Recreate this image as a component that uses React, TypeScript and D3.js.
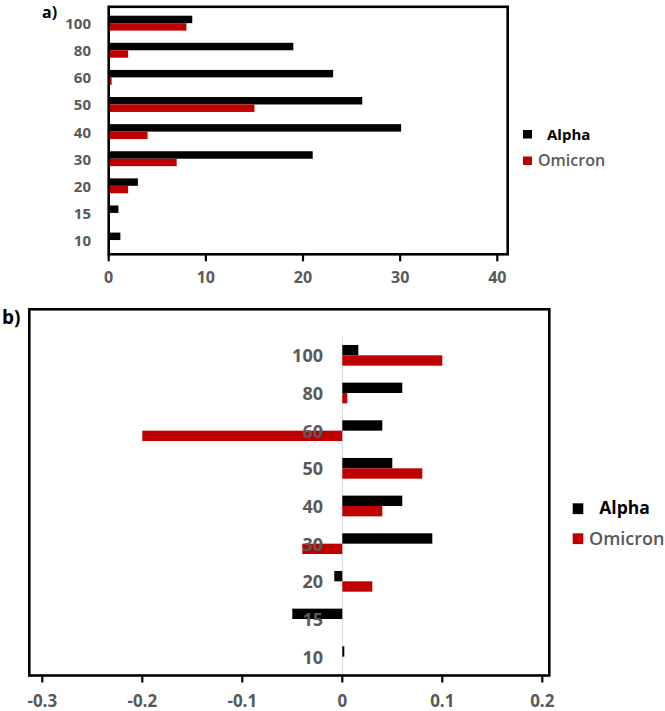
import React from "react";
import * as d3 from "d3";

const categories = ["100", "80", "60", "50", "40", "30", "20", "15", "10"];
const seriesNames = ["Alpha", "Omicron"];
const seriesColors = ["#000000", "#c00000"];

const alphaA = [8.6, 19, 23.1, 26.1, 30.1, 21, 3.0, 1.0, 1.2];
const omicronA = [8.0, 2.0, 0.3, 15.0, 4.0, 7.0, 2.0, 0, 0];

const alphaB = [0.016, 0.06, 0.04, 0.05, 0.06, 0.09, -0.008, -0.05, 0.002];
const omicronB = [0.1, 0.005, -0.2, 0.08, 0.04, -0.04, 0.03, 0, 0];

const ticksA = [0, 10, 20, 30, 40];
const ticksB = [-0.3, -0.2, -0.1, 0, 0.1, 0.2];

const GRAY = "#595959";
const FONT = "'Open Sans', 'Noto Sans', sans-serif";

type PanelProps = {
  alpha: number[];
  omicron: number[];
  xDomain: [number, number];
  xRange: [number, number];
  yRange: [number, number];
  frame: { x0: number; x1: number; y0: number; y1: number };
  ticks: number[];
  tickLabelY: number;
  tickFont: number;
  catFont: number;
  catLabelX: number;
  zeroLine: boolean;
  letter: string;
  letterX: number;
  letterY: number;
  letterFont: number;
  legend: { sx: number; sy: number[]; size: [number, number]; tx: number[]; ty: number[]; font: number[] };
};

function Panel(p: PanelProps) {
  const x = d3.scaleLinear().domain(p.xDomain).range(p.xRange);
  const y = d3.scaleBand<string>().domain(categories).range(p.yRange).padding(0);
  const step = y.step();
  const sub = d3
    .scaleBand<string>()
    .domain(seriesNames)
    .range([step * 0.225, step * 0.775])
    .padding(0);
  const data = [p.alpha, p.omicron];
  const x0 = x(0);
  return (
    <g>
      {p.zeroLine && (
        <line x1={x0} x2={x0} y1={p.yRange[0]} y2={p.frame.y1} stroke="#d9d9d9" strokeWidth={1} />
      )}
      {data.map((vals, si) =>
        vals.map((v, i) => {
          if (v === 0) return null;
          const xv = x(v);
          return (
            <rect
              key={`${si}-${i}`}
              x={Math.min(xv, x0)}
              width={Math.abs(xv - x0)}
              y={(y(categories[i]) as number) + (sub(seriesNames[si]) as number)}
              height={sub.bandwidth()}
              fill={seriesColors[si]}
            />
          );
        })
      )}
      {categories.map((c) => (
        <text
          key={c}
          x={p.catLabelX}
          y={(y(c) as number) + step / 2}
          textAnchor="end"
          dominantBaseline="central"
          fontFamily={FONT}
          fontWeight={700}
          fontSize={p.catFont}
          fill={GRAY}
        >
          {c}
        </text>
      ))}
      <rect
        x={p.frame.x0}
        y={p.frame.y0}
        width={p.frame.x1 - p.frame.x0}
        height={p.frame.y1 - p.frame.y0}
        fill="none"
        stroke="#000"
        strokeWidth={2.6}
      />
      {p.ticks.map((t) => (
        <g key={t}>
          <line x1={x(t)} x2={x(t)} y1={p.frame.y1} y2={p.frame.y1 + 7} stroke="#000" strokeWidth={2.2} />
          <text
            x={x(t)}
            y={p.tickLabelY}
            textAnchor="middle"
            fontFamily={FONT}
            fontWeight={700}
            fontSize={p.tickFont}
            fill={GRAY}
          >
            {String(t)}
          </text>
        </g>
      ))}
      <text x={p.letterX} y={p.letterY} fontFamily={FONT} fontWeight={700} fontSize={p.letterFont} fill="#000">
        {p.letter}
      </text>
      {seriesNames.map((s, si) => (
        <g key={s}>
          <rect
            x={p.legend.sx}
            y={p.legend.sy[si]}
            width={p.legend.size[0]}
            height={p.legend.size[1]}
            fill={seriesColors[si]}
          />
          <text
            x={p.legend.tx[si]}
            y={p.legend.ty[si]}
            fontFamily={FONT}
            fontWeight={si === 0 ? 700 : 600}
            fontSize={p.legend.font[si]}
            fill={si === 0 ? "#000" : GRAY}
          >
            {s}
          </text>
        </g>
      ))}
    </g>
  );
}

export default function App() {
  return (
    <svg
      width={665}
      height={711}
      style={{ position: "absolute", left: 0, top: 0, background: "#fff" }}
    >
      <rect x={0} y={0} width={665} height={711} fill="#fff" />
      <Panel
        alpha={alphaA}
        omicron={omicronA}
        xDomain={[0, 41.07]}
        xRange={[108.7, 507.7]}
        yRange={[9.6, 253.6]}
        frame={{ x0: 108.7, x1: 507.7, y0: 6.8, y1: 254.3 }}
        ticks={ticksA}
        tickLabelY={283.3}
        tickFont={16}
        catFont={15}
        catLabelX={91}
        zeroLine={false}
        letter="a)"
        letterX={42}
        letterY={18}
        letterFont={16}
        legend={{ sx: 523, sy: [130, 156.5], size: [9, 8.5], tx: [547, 538], ty: [139.5, 165.5], font: [15, 16] }}
      />
      <Panel
        alpha={alphaB}
        omicron={omicronB}
        xDomain={[-0.313, 0.207]}
        xRange={[29.3, 549.3]}
        yRange={[336.5, 675.5]}
        frame={{ x0: 29.3, x1: 549.3, y0: 309.3, y1: 675.5 }}
        ticks={ticksB}
        tickLabelY={707}
        tickFont={17}
        catFont={18}
        catLabelX={323}
        zeroLine={true}
        letter="b)"
        letterX={2}
        letterY={324}
        letterFont={19}
        legend={{ sx: 572.7, sy: [503.3, 533.3], size: [10.6, 10.8], tx: [599.3, 589], ty: [513.5, 545], font: [17.5, 18] }}
      />
    </svg>
  );
}
